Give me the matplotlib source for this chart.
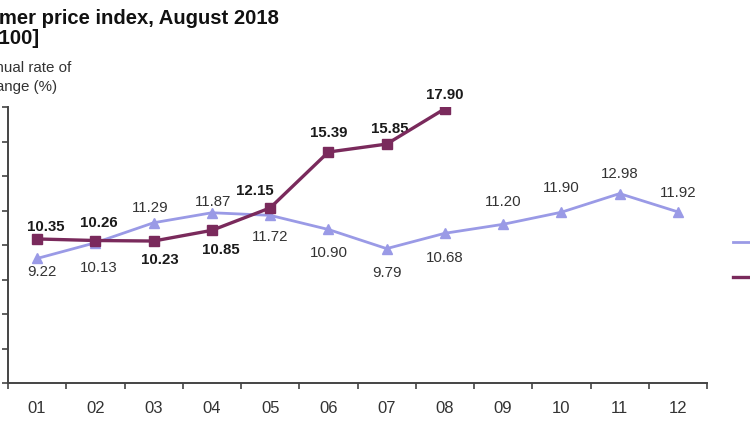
import numpy as np
import matplotlib
matplotlib.use("Agg")
import matplotlib.pyplot as plt
from matplotlib.lines import Line2D

plt.rcParams["font.family"] = ["Liberation Sans", "DejaVu Sans"]

# ── Data ─────────────────────────────────────────────────────────────────────
months = ["01", "02", "03", "04", "05", "06", "07", "08", "09", "10", "11", "12"]
cpi_2017 = [9.22, 10.13, 11.29, 11.87, 11.72, 10.90, 9.79, 10.68, 11.20, 11.90, 12.98, 11.92]
cpi_2018 = [10.35, 10.26, 10.23, 10.85, 12.15, 15.39, 15.85, 17.90]
series_labels = ["2017", "2018"]
y_ticks = [2, 4, 6, 8, 10, 12, 14, 16, 18]

# label offsets (pixels) — style only
off_2017 = [(5, -14), (3, -25), (-3, 15), (1, 11), (0, -22), (0, -24),
            (0, -24), (0, -25), (0, 22), (0, 24), (0, 20), (0, 19)]
off_2018 = [(9, 12), (3, 18), (6, -19), (9, -20), (-15, 17), (0, 19),
            (3, 15), (0, 14)]

C17 = "#9a9ae6"
C18 = "#7a2a5c"

fig = plt.figure(figsize=(7.5, 4.22), dpi=100)
ax = fig.add_axes([8 / 750, 1 - 383 / 422, 699 / 750, 276 / 422])

x17 = np.arange(len(cpi_2017))
x18 = np.arange(len(cpi_2018))

ax.plot(x17, cpi_2017, color=C17, lw=2.0, marker="^", ms=6.5,
        markeredgecolor=C17, zorder=3, label=series_labels[0])
ax.plot(x18, cpi_2018, color=C18, lw=2.4, marker="s", ms=6.5,
        markeredgecolor=C18, zorder=4, label=series_labels[1])

for xi, v, (dx, dy) in zip(x17, cpi_2017, off_2017):
    ax.annotate(f"{v:.2f}", (xi, v), xytext=(dx, dy), textcoords="offset pixels",
                ha="center", va="center", fontsize=10.8, color="#333333")
for xi, v, (dx, dy) in zip(x18, cpi_2018, off_2018):
    ax.annotate(f"{v:.2f}", (xi, v), xytext=(dx, dy), textcoords="offset pixels",
                ha="center", va="center", fontsize=10.8, color="#1a1a1a",
                fontweight="bold")

ax.set_xlim(-0.5, len(months) - 0.5)
ax.set_ylim(y_ticks[0], y_ticks[-1])
ax.set_xticks(np.arange(len(months)))
ax.set_xticklabels(months, fontsize=12, color="#333333")
ax.set_xticks(np.arange(len(months) + 1) - 0.5, minor=True)
ax.tick_params(axis="x", which="major", length=0, pad=13)
ax.tick_params(axis="x", which="minor", length=4, width=1.2, color="#444444",
               direction="out")
ax.set_yticks(y_ticks)
ax.tick_params(axis="y", length=4, width=1.2, color="#444444", labelleft=False)

for s in ["top", "right"]:
    ax.spines[s].set_visible(False)
for s in ["left", "bottom"]:
    ax.spines[s].set_color("#444444")
    ax.spines[s].set_linewidth(1.4)

# ── Titles (cropped at figure edge, as in the reference) ────────────────────
fig.text(279 / 750, 1 - 18 / 422, "Consumer price index, August 2018",
         ha="right", va="center", fontsize=14.6, fontweight="bold", color="#111111")
fig.text(40 / 750, 1 - 38 / 422, "[2010=100]",
         ha="right", va="center", fontsize=14.6, fontweight="bold", color="#111111")
fig.text(71 / 750, 1 - 68 / 422, "Annual rate of",
         ha="right", va="center", fontsize=10.9, color="#333333")
fig.text(57 / 750, 1 - 87 / 422, "change (%)",
         ha="right", va="center", fontsize=10.9, color="#333333")

handles = [Line2D([], [], color=C17, lw=2.0), Line2D([], [], color=C18, lw=2.4)]
fig.legend(handles, series_labels, loc="upper left",
           bbox_to_anchor=(733 / 750, 1 - 237 / 422), frameon=False,
           borderpad=0, borderaxespad=0, handlelength=2.5, handletextpad=0.6,
           labelspacing=1.9, fontsize=9)

fig.savefig("out.png", dpi=100)
